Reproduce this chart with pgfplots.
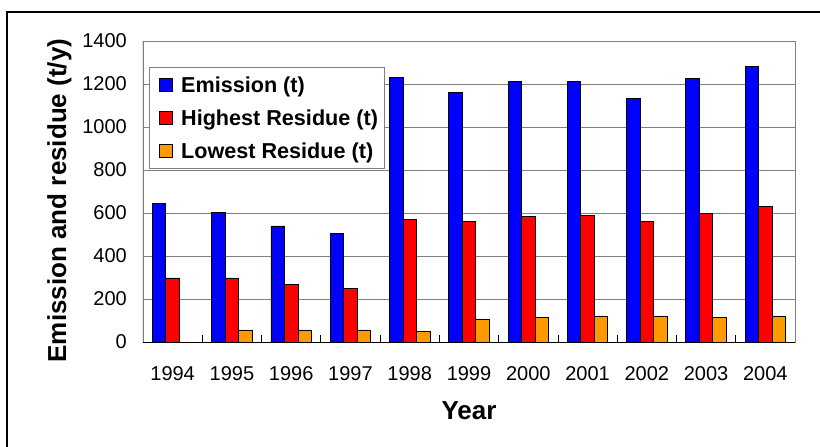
\documentclass[border=0pt]{standalone}
\usepackage{fontspec}
\setmainfont{Liberation Sans}
\usepackage{pgfplots}
\pgfplotsset{compat=1.18}

\definecolor{emi}{HTML}{0000FF}
\definecolor{hig}{HTML}{FF0000}
\definecolor{low}{HTML}{FF9900}
\definecolor{gridc}{HTML}{808080}

\begin{document}
\begin{tikzpicture}
\useasboundingbox (-143bp,-105bp) rectangle (677bp,342bp);
% outer frame (only top and left edges fall inside the picture)
\draw[line width=1.2bp] (-136bp,-110bp) -- (-136bp,330bp) -- (690bp,330bp);
\begin{axis}[
    at={(0,0)}, anchor=south west,
    scale only axis,
    width=652bp, height=301bp,
    xmin=-0.5, xmax=10.5,
    ymin=0, ymax=1400,
    ytick={0,200,...,1400},
    xtick={0,...,10},
    xticklabels={1994,1995,1996,1997,1998,1999,2000,2001,2002,2003,2004},
    minor xtick={-0.5,0.5,...,10.5},
    minor tick length=7bp,
    minor x tick style={black, line width=0.8bp},
    major x tick style={draw=none},
    ytick style={draw=none},
    tick pos=left,
    tick align=inside,
    ymajorgrids,
    grid style={gridc, line width=0.8bp},
    axis line style={gridc, line width=0.8bp},
    /pgf/number format/assume math mode=true,
    /pgf/number format/1000 sep={},
    tick label style={font=\fontsize{20bp}{24bp}\selectfont},
    xticklabel style={anchor=base, yshift=-38.7bp},
    yticklabel style={anchor=east, inner sep=0pt, xshift=-16bp},
    xlabel={Year},
    ylabel={Emission and residue (t/y)},
    label style={font=\fontsize{26bp}{30bp}\selectfont\bfseries},
    xlabel style={at={(axis description cs:0.5,-0.257)}, anchor=base},
    ylabel style={at={(axis description cs:-0.118,0.47)}, anchor=base},
    legend style={at={(axis description cs:0.0092,0.9136)}, anchor=north west,
        draw=gridc, line width=0.8bp,
        font=\fontsize{21.6bp}{26bp}\selectfont\bfseries,
        inner xsep=4bp, inner ysep=7bp, row sep=12bp},
    legend cell align=left,
    legend image code/.code={%
        \draw[#1, draw=black, line width=0.8bp] (6bp,-6.5bp) rectangle (19bp,6.5bp);
        \path (0bp,0bp) (25bp,0bp);},
]
\addplot[ybar, bar width=13.5bp, bar shift=-13.5bp, fill=emi, draw=black, line width=0.8bp]
    coordinates {(0,643) (1,604) (2,540) (3,503) (4,1230) (5,1160) (6,1211) (7,1211) (8,1133) (9,1224) (10,1281)};
\addplot[ybar, bar width=13.5bp, bar shift=0bp, fill=hig, draw=black, line width=0.8bp]
    coordinates {(0,298) (1,298) (2,266) (3,247) (4,571) (5,559) (6,584) (7,590) (8,559) (9,598) (10,629)};
\addplot[ybar, bar width=13.5bp, bar shift=13.5bp, fill=low, draw=black, line width=0.8bp]
    coordinates {(0,0) (1,56) (2,56) (3,56) (4,48) (5,107) (6,113) (7,121) (8,121) (9,113) (10,121)};
\draw[black, line width=1bp] (rel axis cs:0,1) -- (rel axis cs:0,0) -- (rel axis cs:1,0);
\legend{Emission (t), Highest Residue (t), Lowest Residue (t)}
\end{axis}
\end{tikzpicture}
\end{document}
